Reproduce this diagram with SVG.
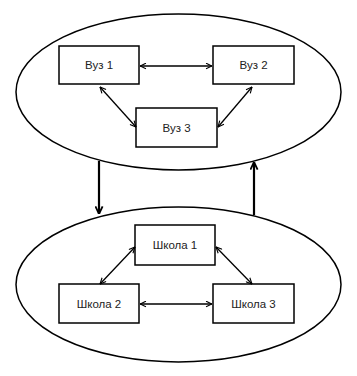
<svg xmlns="http://www.w3.org/2000/svg" width="357" height="376" viewBox="0 0 357 376">
<defs>
<style>
.ell{fill:#fff;stroke:#000;stroke-width:1.5}
.box{fill:#fff;stroke:#000;stroke-width:1.5}
.lbl{font-family:"Liberation Sans",Arial,sans-serif;font-size:11.5px;fill:#222;text-anchor:middle;dominant-baseline:central}
.c{stroke:#000;stroke-width:1.3;fill:none;marker-start:url(#a);marker-end:url(#a)}
.v{stroke:#000;stroke-width:2.2;fill:none;marker-end:url(#b)}
</style>
<marker id="a" viewBox="0 0 10 10" refX="9.5" refY="5" markerWidth="7" markerHeight="7" markerUnits="userSpaceOnUse" orient="auto-start-reverse">
<polyline points="1,1 9.5,5 1,9" fill="none" stroke="#000" stroke-width="1.6"/>
</marker>
<marker id="b" viewBox="0 0 10 10" refX="9.5" refY="5" markerWidth="9" markerHeight="9" markerUnits="userSpaceOnUse" orient="auto">
<polyline points="1,1 9.5,5 1,9" fill="none" stroke="#000" stroke-width="2"/>
</marker>
</defs>
<g id="top-ellipse"><ellipse class="ell" cx="178.5" cy="92" rx="162.5" ry="78"/></g>
<g id="bottom-ellipse"><ellipse class="ell" cx="178.5" cy="284.5" rx="162.5" ry="77.5"/></g>
<g id="vuz1"><rect class="box" x="59" y="46" width="80" height="38"/><text class="lbl" x="99" y="65">Вуз 1</text></g>
<g id="vuz2"><rect class="box" x="213" y="46" width="81" height="38"/><text class="lbl" x="253.5" y="65">Вуз 2</text></g>
<g id="vuz3"><rect class="box" x="136" y="108" width="81" height="39"/><text class="lbl" x="176.5" y="128">Вуз 3</text></g>
<g id="shkola1"><rect class="box" x="135" y="225" width="80" height="40"/><text class="lbl" x="175" y="245">Школа 1</text></g>
<g id="shkola2"><rect class="box" x="59" y="284" width="80" height="39"/><text class="lbl" x="99" y="304">Школа 2</text></g>
<g id="shkola3"><rect class="box" x="213" y="284" width="81" height="39"/><text class="lbl" x="253.5" y="304">Школа 3</text></g>
<g id="connectors">
<line class="c" x1="140" y1="66" x2="212" y2="66"/>
<line class="c" x1="100" y1="87" x2="136" y2="127"/>
<line class="c" x1="252" y1="87" x2="218" y2="127"/>
<line class="c" x1="135" y1="247" x2="100" y2="284"/>
<line class="c" x1="216" y1="247" x2="252" y2="284"/>
<line class="c" x1="140" y1="304" x2="212" y2="304"/>
<line class="v" x1="99" y1="161" x2="99" y2="214"/>
<line class="v" x1="254" y1="215" x2="254" y2="162"/>
</g>
</svg>
